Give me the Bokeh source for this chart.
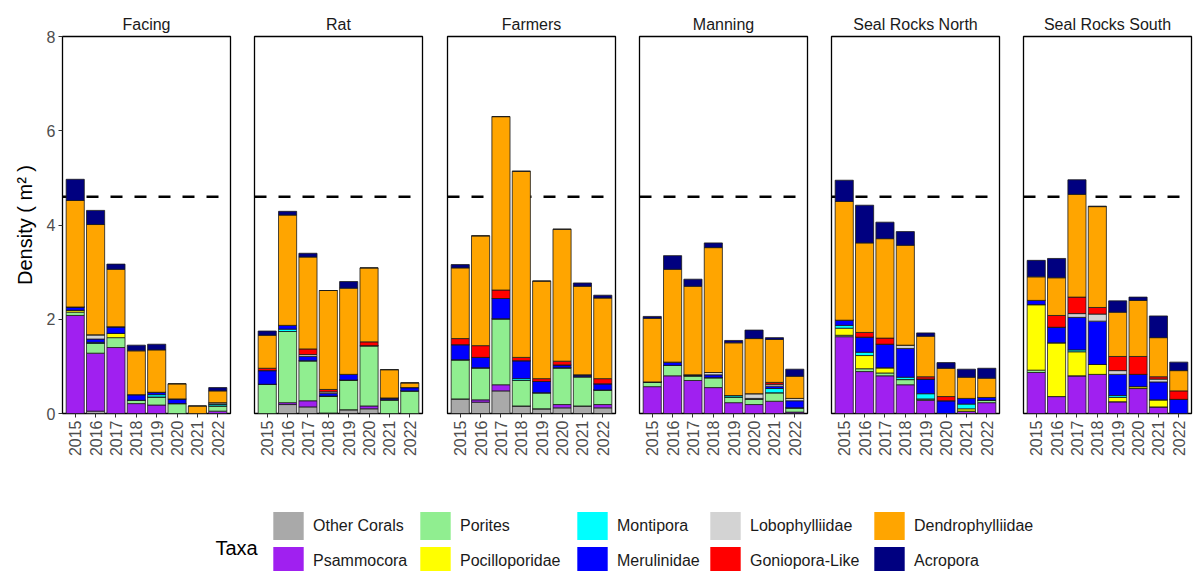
import math
from bokeh.plotting import figure
from bokeh.models import (FactorRange, Range1d, Span, Legend, LegendItem, Label,
                          FixedTicker, ColumnDataSource)
from bokeh.layouts import gridplot, column
from bokeh.embed import file_html
from bokeh.resources import INLINE

FONT = "Liberation Sans"

YEARS = ["2015", "2016", "2017", "2018", "2019", "2020", "2021", "2022"]
SITES = ["Facing", "Rat", "Farmers", "Manning", "Seal Rocks North", "Seal Rocks South"]
TAXA = ["Other Corals", "Psammocora", "Porites", "Pocilloporidae", "Montipora",
        "Merulinidae", "Lobophylliidae", "Goniopora-Like", "Dendrophylliidae", "Acropora"]
COLORS = ["#A9A9A9", "#A020F0", "#90EE90", "#FFFF00", "#00FFFF",
          "#0000FF", "#D3D3D3", "#FF0000", "#FFA500", "#000080"]
BENCHMARK = 4.6
Y_TICKS = [0, 2, 4, 6, 8]

FACING = {
    "Other Corals":     [0, 0.05, 0, 0, 0, 0, 0, 0],
    "Psammocora":       [2.08, 1.23, 1.40, 0.21, 0.18, 0, 0, 0.05],
    "Porites":          [0.07, 0.21, 0.21, 0.07, 0.17, 0.21, 0, 0.11],
    "Pocilloporidae":   [0.04, 0, 0.09, 0, 0, 0, 0, 0],
    "Montipora":        [0, 0.02, 0, 0, 0.05, 0, 0, 0.04],
    "Merulinidae":      [0.07, 0.07, 0.14, 0.12, 0.05, 0.10, 0, 0],
    "Lobophylliidae":   [0, 0.09, 0, 0, 0, 0, 0, 0.03],
    "Goniopora-Like":   [0, 0, 0, 0, 0, 0, 0, 0],
    "Dendrophylliidae": [2.26, 2.34, 1.22, 0.93, 0.90, 0.32, 0.16, 0.25],
    "Acropora":         [0.45, 0.30, 0.11, 0.12, 0.12, 0, 0, 0.07],
}
RAT = {
    "Other Corals":     [0, 0.19, 0.14, 0.01, 0.08, 0.10, 0, 0],
    "Psammocora":       [0, 0.04, 0.13, 0, 0, 0.06, 0, 0],
    "Porites":          [0.62, 1.51, 0.85, 0.36, 0.63, 1.28, 0.29, 0.48],
    "Pocilloporidae":   [0, 0, 0, 0, 0, 0, 0, 0],
    "Montipora":        [0, 0.05, 0, 0, 0, 0, 0, 0],
    "Merulinidae":      [0.29, 0.08, 0.09, 0.06, 0.12, 0, 0.04, 0.07],
    "Lobophylliidae":   [0, 0, 0.04, 0.03, 0, 0, 0, 0],
    "Goniopora-Like":   [0.05, 0, 0.12, 0.05, 0, 0.08, 0, 0],
    "Dendrophylliidae": [0.70, 2.34, 1.95, 2.10, 1.83, 1.57, 0.60, 0.10],
    "Acropora":         [0.09, 0.08, 0.08, 0, 0.14, 0, 0, 0],
}
FARMERS = {
    "Other Corals":     [0.31, 0.24, 0.48, 0.16, 0.10, 0.12, 0.16, 0.12],
    "Psammocora":       [0, 0.05, 0.13, 0, 0, 0.07, 0, 0.07],
    "Porites":          [0.83, 0.68, 1.40, 0.54, 0.34, 0.78, 0.62, 0.31],
    "Pocilloporidae":   [0, 0, 0, 0, 0, 0, 0, 0],
    "Montipora":        [0, 0, 0, 0.04, 0, 0, 0, 0],
    "Merulinidae":      [0.32, 0.22, 0.43, 0.38, 0.24, 0.06, 0.04, 0.13],
    "Lobophylliidae":   [0, 0, 0, 0, 0, 0, 0, 0],
    "Goniopora-Like":   [0.13, 0.25, 0.18, 0.07, 0.06, 0.08, 0, 0.11],
    "Dendrophylliidae": [1.50, 2.33, 3.68, 3.95, 2.07, 2.80, 1.88, 1.71],
    "Acropora":         [0.07, 0, 0, 0, 0, 0, 0.07, 0.06],
}
MANNING = {
    "Other Corals":     [0, 0, 0, 0, 0, 0, 0, 0],
    "Psammocora":       [0.57, 0.80, 0.70, 0.55, 0.23, 0.19, 0.26, 0.03],
    "Porites":          [0.10, 0.22, 0.10, 0.21, 0.11, 0.12, 0.18, 0.09],
    "Pocilloporidae":   [0, 0, 0, 0, 0, 0, 0, 0],
    "Montipora":        [0, 0, 0, 0, 0.04, 0, 0.09, 0],
    "Merulinidae":      [0, 0.07, 0.02, 0.06, 0, 0.01, 0.05, 0.15],
    "Lobophylliidae":   [0, 0, 0, 0.05, 0, 0.10, 0.04, 0.05],
    "Goniopora-Like":   [0, 0, 0, 0, 0, 0, 0.04, 0],
    "Dendrophylliidae": [1.35, 1.97, 1.88, 2.65, 1.12, 1.17, 0.91, 0.47],
    "Acropora":         [0.04, 0.29, 0.15, 0.10, 0.05, 0.18, 0.04, 0.15],
}
SEAL_ROCKS_NORTH = {
    "Other Corals":     [0, 0, 0, 0, 0, 0, 0, 0],
    "Psammocora":       [1.63, 0.89, 0.80, 0.61, 0.28, 0, 0.05, 0.23],
    "Porites":          [0.03, 0.06, 0.06, 0.11, 0.03, 0, 0, 0.05],
    "Pocilloporidae":   [0.15, 0.28, 0.11, 0, 0, 0, 0.05, 0],
    "Montipora":        [0.06, 0.07, 0, 0.05, 0.11, 0, 0.10, 0],
    "Merulinidae":      [0.11, 0.32, 0.50, 0.61, 0.31, 0.27, 0.12, 0.06],
    "Lobophylliidae":   [0, 0, 0, 0.07, 0, 0, 0, 0],
    "Goniopora-Like":   [0, 0.10, 0.13, 0, 0.05, 0.09, 0, 0],
    "Dendrophylliidae": [2.52, 1.90, 2.11, 2.12, 0.86, 0.60, 0.45, 0.41],
    "Acropora":         [0.45, 0.80, 0.35, 0.29, 0.07, 0.12, 0.17, 0.21],
}
SEAL_ROCKS_SOUTH = {
    "Other Corals":     [0, 0, 0, 0, 0, 0, 0, 0],
    "Psammocora":       [0.87, 0.36, 0.80, 0.83, 0.25, 0.53, 0.14, 0],
    "Porites":          [0.05, 0, 0, 0, 0, 0, 0, 0],
    "Pocilloporidae":   [1.39, 1.14, 0.51, 0.21, 0.09, 0.04, 0.15, 0],
    "Montipora":        [0, 0, 0.04, 0, 0.04, 0, 0, 0],
    "Merulinidae":      [0.09, 0.33, 0.69, 0.92, 0.45, 0.26, 0.38, 0.30],
    "Lobophylliidae":   [0, 0, 0.08, 0.15, 0.08, 0, 0.06, 0],
    "Goniopora-Like":   [0, 0.25, 0.35, 0.14, 0.30, 0.38, 0.05, 0.18],
    "Dendrophylliidae": [0.50, 0.80, 2.18, 2.14, 0.94, 1.19, 0.83, 0.43],
    "Acropora":         [0.35, 0.41, 0.31, 0.01, 0.24, 0.07, 0.46, 0.18],
}
SITE_DATA = [FACING, RAT, FARMERS, MANNING, SEAL_ROCKS_NORTH, SEAL_ROCKS_SOUTH]

LEFT_BORDERS = [62, 12, 13, 12, 12, 12]
RIGHT_BORDERS = [12, 12, 12, 12, 12, 3]

figs = []
for i, (site, data) in enumerate(zip(SITES, SITE_DATA)):
    first = i == 0
    p = figure(x_range=FactorRange(factors=YEARS, range_padding=0.03125),
               y_range=Range1d(0, 8),
               frame_width=168, frame_height=377,
               output_backend="svg", toolbar_location=None,
               title=site,
               y_axis_location="left" if first else None,
               min_border_left=LEFT_BORDERS[i],
               min_border_right=RIGHT_BORDERS[i],
               min_border_top=36, min_border_bottom=47,
               background_fill_color="white", border_fill_color="white")
    p.add_layout(Span(location=BENCHMARK, dimension="width", line_color="black",
                      line_width=2.5, line_dash="12 12", level="underlay"))
    src = ColumnDataSource(dict(year=YEARS, **data))
    p.vbar_stack(TAXA, x="year", width=0.89, fill_color=COLORS, source=src,
                 line_color="#1A1A1A", line_width=0.8)
    p.title.align = "center"
    p.title.text_font_size = "16px"
    p.title.text_font_style = "normal"
    p.title.text_font = FONT
    p.title.text_color = "#1A1A1A"
    p.title.standoff = 7
    p.xgrid.visible = False
    p.ygrid.visible = False
    p.outline_line_color = "black"
    p.outline_line_width = 1.3
    xa = p.xaxis[0]
    xa.major_label_orientation = math.pi / 2
    xa.major_label_text_font_size = "16px"
    xa.major_label_text_font = FONT
    xa.major_label_text_color = "#4D4D4D"
    xa.axis_line_color = None
    xa.major_tick_out = 4
    xa.major_tick_in = 0
    xa.major_tick_line_color = "#333333"
    xa.major_label_standoff = 3
    if first:
        ya = p.yaxis[0]
        ya.ticker = FixedTicker(ticks=Y_TICKS)
        ya.minor_tick_line_color = None
        ya.major_tick_out = 4
        ya.major_tick_in = 0
        ya.major_tick_line_color = "#333333"
        ya.axis_line_color = None
        ya.major_label_text_font_size = "16px"
        ya.major_label_text_font = FONT
        ya.major_label_text_color = "#4D4D4D"
        ya.major_label_standoff = 3
        ya.axis_label = "Density ( m\u00b2 )"
        ya.axis_label_text_font_size = "20px"
        ya.axis_label_text_font = FONT
        ya.axis_label_text_font_style = "normal"
        ya.axis_label_text_color = "black"
        ya.axis_label_standoff = 8
    figs.append(p)

grid = gridplot([figs], toolbar_location=None)

# legend panel
lf = figure(width=1193, height=111, x_range=Range1d(0, 1), y_range=Range1d(0, 1),
            toolbar_location=None, output_backend="svg",
            x_axis_location=None, y_axis_location=None, min_border=0,
            outline_line_color=None)
lf.xgrid.visible = False
lf.ygrid.visible = False
renderers = {}
for t, c in zip(TAXA, COLORS):
    # legend proxy: a single NaN bar, so nothing is drawn in the panel
    renderers[t] = lf.vbar(x=[0.5], top=[float("nan")], width=0.5,
                           fill_color=c, line_color=None)

col_x = [269, 416, 573, 706, 870]
for k in range(5):
    pair = TAXA[2 * k: 2 * k + 2]
    leg = Legend(items=[LegendItem(label=t, renderers=[renderers[t]]) for t in pair],
                 orientation="vertical", location=(col_x[k], -7),
                 glyph_width=38, glyph_height=35, label_height=35, spacing=-5,
                 label_standoff=6, padding=0, margin=0,
                 border_line_color=None, background_fill_alpha=0,
                 label_text_font_size="16px", label_text_font=FONT,
                 label_text_color="#1A1A1A", label_text_baseline="middle")
    lf.add_layout(leg)
lf.add_layout(Label(x=215, y=24, x_units="screen", y_units="screen", text="Taxa",
                    text_font_size="20px", text_font=FONT, text_color="black",
                    text_baseline="middle"))

layout = column(grid, lf)
open("out.html", "w").write(file_html(layout, INLINE))
